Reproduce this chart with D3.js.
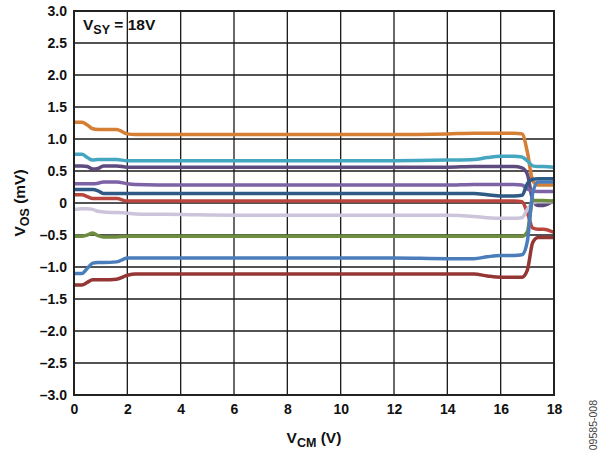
<!DOCTYPE html>
<meta charset="utf-8">
<script src="https://d3js.org/d3.v7.min.js"></script>
<style>
body { margin:0; background:#fff; }
text { font-family:"Liberation Sans", Arial, sans-serif; font-weight:bold; fill:#111; }
</style>
<body>
</body>
<script>

// VCM sample points shared by every trace
var xs = [0, 0.3, 0.5, 0.7, 0.9, 1.1, 1.6, 2.0, 2.3, 4, 6, 8, 10, 12, 14, 15, 15.5, 16, 16.5, 16.8, 17.0, 17.2, 17.4, 17.6, 18];

var orange   = [1.26, 1.26, 1.22, 1.16, 1.15, 1.15, 1.15, 1.08, 1.07, 1.07, 1.07, 1.07, 1.07, 1.07, 1.08, 1.09, 1.09, 1.09, 1.09, 1.08, 0.80, 0.35, 0.28, 0.28, 0.28];
var cyan     = [0.76, 0.76, 0.71, 0.67, 0.68, 0.68, 0.68, 0.66, 0.66, 0.66, 0.66, 0.66, 0.66, 0.66, 0.67, 0.68, 0.71, 0.73, 0.73, 0.72, 0.66, 0.58, 0.57, 0.57, 0.56];
var darkPurple = [0.58, 0.58, 0.57, 0.53, 0.54, 0.58, 0.58, 0.56, 0.56, 0.56, 0.56, 0.56, 0.56, 0.56, 0.56, 0.57, 0.57, 0.57, 0.57, 0.55, 0.45, 0.05, -0.04, -0.04, 0.04];
var purple   = [0.30, 0.30, 0.30, 0.30, 0.31, 0.33, 0.33, 0.30, 0.29, 0.28, 0.28, 0.28, 0.28, 0.28, 0.28, 0.29, 0.29, 0.29, 0.29, 0.28, 0.22, 0.19, 0.18, 0.18, 0.18];
var darkBlue = [0.21, 0.21, 0.21, 0.21, 0.19, 0.15, 0.15, 0.15, 0.15, 0.15, 0.15, 0.15, 0.15, 0.15, 0.15, 0.15, 0.13, 0.11, 0.11, 0.12, 0.30, 0.37, 0.38, 0.38, 0.38];
var red      = [0.13, 0.13, 0.10, 0.07, 0.07, 0.07, 0.07, 0.03, 0.03, 0.03, 0.03, 0.03, 0.03, 0.03, 0.03, 0.03, 0.03, 0.03, 0.03, 0.02, -0.15, -0.39, -0.41, -0.41, -0.46];
var lavender = [-0.10, -0.09, -0.09, -0.10, -0.13, -0.14, -0.15, -0.16, -0.17, -0.18, -0.19, -0.19, -0.19, -0.19, -0.19, -0.21, -0.23, -0.24, -0.24, -0.23, -0.10, 0.00, 0.02, 0.02, 0.02];
var green    = [-0.52, -0.52, -0.50, -0.47, -0.51, -0.53, -0.53, -0.52, -0.52, -0.52, -0.52, -0.52, -0.52, -0.52, -0.52, -0.52, -0.52, -0.52, -0.52, -0.52, -0.45, 0.04, 0.04, 0.04, 0.03];
var blue     = [-1.10, -1.10, -1.02, -0.94, -0.93, -0.93, -0.92, -0.86, -0.86, -0.86, -0.86, -0.86, -0.86, -0.86, -0.87, -0.87, -0.84, -0.82, -0.82, -0.81, -0.60, 0.15, 0.33, 0.33, 0.33];
var darkRed  = [-1.28, -1.28, -1.24, -1.20, -1.20, -1.20, -1.19, -1.13, -1.11, -1.11, -1.11, -1.11, -1.11, -1.11, -1.11, -1.11, -1.14, -1.16, -1.16, -1.16, -1.05, -0.62, -0.54, -0.54, -0.54];

var xTicks = [0, 2, 4, 6, 8, 10, 12, 14, 16, 18];
var yTicks = [-3, -2.5, -2, -1.5, -1, -0.5, 0, 0.5, 1, 1.5, 2, 2.5, 3];

var series = [
  {vals: orange, color: "#D57F35"},
  {vals: cyan, color: "#45A6C0"},
  {vals: darkPurple, color: "#5D4A7E"},
  {vals: purple, color: "#7E62A6"},
  {vals: darkBlue, color: "#2F5A85"},
  {vals: red, color: "#B8463F"},
  {vals: lavender, color: "#CCC4DA"},
  {vals: green, color: "#6F8D3E"},
  {vals: blue, color: "#4A7DBA"},
  {vals: darkRed, color: "#943634"}
];

var margin = {top: 11, right: 51, bottom: 55, left: 74};
var W = 605, H = 450;
var width = W - margin.left - margin.right,
    height = H - margin.top - margin.bottom;

var svg = d3.select('body').append('svg')
  .attr('width', W)
  .attr('height', H);

var g = svg.append('g')
  .attr('transform', 'translate(' + margin.left + ',' + margin.top + ')');

var xScale = d3.scaleLinear().domain([0, 18]).range([0, width]);
var yScale = d3.scaleLinear().domain([-3, 3]).range([height, 0]);

function fmtY(d) {
  if (d === 0) return '0';
  var s = Math.abs(d).toFixed(1);
  return (d < 0 ? '\u2013' : '') + s;
}

// grid
g.append('g').selectAll('line').data(yTicks).enter().append('line')
  .attr('x1', 0).attr('x2', width)
  .attr('y1', function(d) { return yScale(d); })
  .attr('y2', function(d) { return yScale(d); })
  .attr('stroke', '#1a1a1a').attr('stroke-width', 1.3);

g.append('g').selectAll('line').data(xTicks).enter().append('line')
  .attr('y1', 0).attr('y2', height)
  .attr('x1', function(d) { return xScale(d); })
  .attr('x2', function(d) { return xScale(d); })
  .attr('stroke', '#1a1a1a').attr('stroke-width', 1.3);

// axes (labels only)
var yAxis = d3.axisLeft(yScale).tickValues(yTicks).tickFormat(fmtY).tickSize(0).tickPadding(7);
var xAxis = d3.axisBottom(xScale).tickValues(xTicks).tickFormat(d3.format('d')).tickSize(0).tickPadding(9);

g.append('g').call(yAxis)
  .call(function(a) { a.select('.domain').remove(); })
  .selectAll('text').style('font-size', '14px').style('font-family', '"Liberation Sans", Arial, sans-serif').style('font-weight', 'bold').attr('fill', '#111');

g.append('g').attr('transform', 'translate(0,' + height + ')').call(xAxis)
  .call(function(a) { a.select('.domain').remove(); })
  .selectAll('text').style('font-size', '14px').style('font-family', '"Liberation Sans", Arial, sans-serif').style('font-weight', 'bold').attr('fill', '#111');

// traces
var line = d3.line()
  .x(function(d) { return xScale(d[0]); })
  .y(function(d) { return yScale(d[1]); })
  .curve(d3.curveMonotoneX);

g.selectAll('.trace').data(series).enter().append('path')
  .attr('class', 'trace')
  .attr('fill', 'none')
  .attr('stroke', function(d) { return d.color; })
  .attr('stroke-width', 3.5)
  .attr('stroke-linejoin', 'round')
  .attr('d', function(d) { return line(xs.map(function(x, i) { return [x, d.vals[i]]; })); });

// frame
g.append('rect')
  .attr('width', width).attr('height', height)
  .attr('fill', 'none').attr('stroke', '#222').attr('stroke-width', 2);

// supply label
var lab = g.append('text').attr('x', 9).attr('y', 19).style('font-size', '15.5px');
lab.append('tspan').text('V');
lab.append('tspan').attr('dy', 4).style('font-size', '12.5px').text('SY');
lab.append('tspan').attr('dy', -4).text(' = 18V');

// x title
var xt = svg.append('text').attr('x', margin.left + width / 2).attr('y', 443)
  .attr('text-anchor', 'middle').style('font-size', '15.5px');
xt.append('tspan').text('V');
xt.append('tspan').attr('dy', 4).style('font-size', '12.5px').text('CM');
xt.append('tspan').attr('dy', -4).text(' (V)');

// y title
var yt = svg.append('text').attr('transform', 'translate(25,' + (margin.top + height / 2) + ') rotate(-90)')
  .attr('text-anchor', 'middle').style('font-size', '15.5px');
yt.append('tspan').text('V');
yt.append('tspan').attr('dy', 4).style('font-size', '12.5px').text('OS');
yt.append('tspan').attr('dy', -4).text(' (mV)');

// figure code
svg.append('text').attr('transform', 'translate(597,400) rotate(-90)')
  .attr('text-anchor', 'end')
  .style('font-size', '10.5px').style('font-weight', 'normal').style('fill', '#444')
  .text('09585-008');

</script>
